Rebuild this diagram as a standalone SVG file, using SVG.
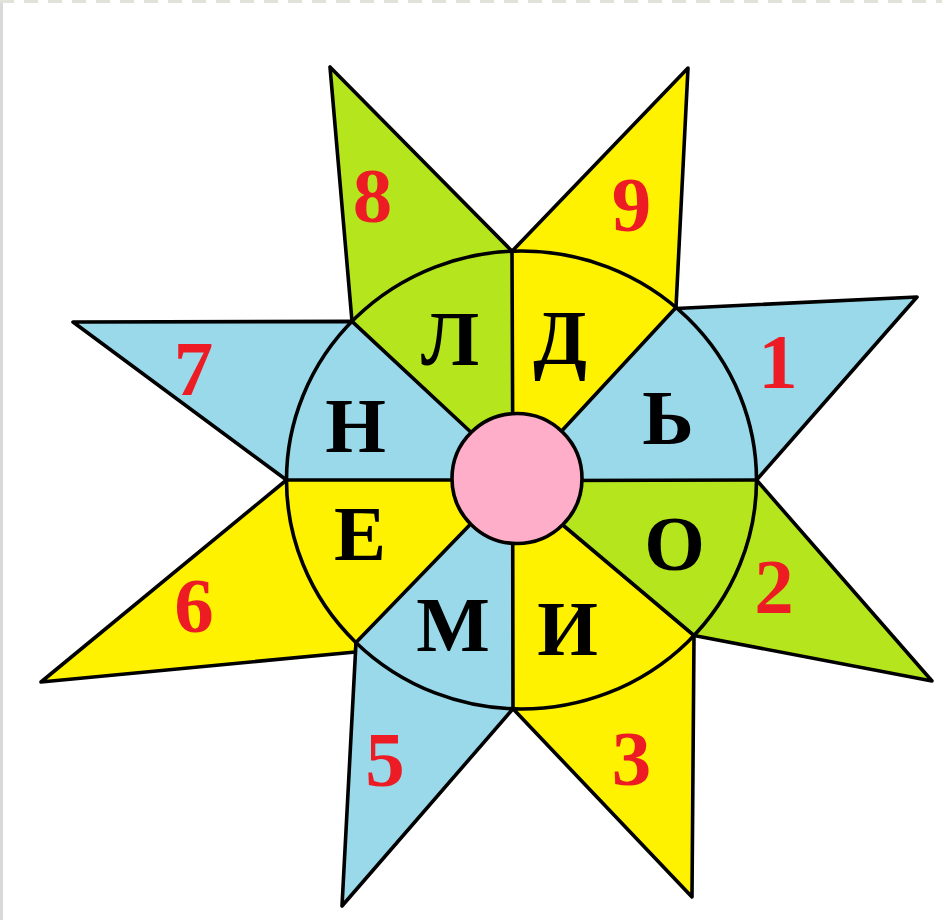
<svg xmlns="http://www.w3.org/2000/svg" width="942" height="920" viewBox="0 0 942 920">
<style>
.ln{stroke:#000;stroke-width:3.6;stroke-linejoin:round;stroke-linecap:round}
.g{fill:#B5E61D}.y{fill:#FFF200}.b{fill:#99D9EA}
.sec{stroke:none}
.let{font-family:"Liberation Serif","Times New Roman",serif;font-weight:bold;font-size:78px;fill:#000;text-anchor:middle}
.num{font-family:"Liberation Serif","Times New Roman",serif;font-weight:bold;font-size:79px;fill:#ED1C24;text-anchor:middle}
</style>
<rect x="0" y="0" width="942" height="920" fill="#fff"/>
<rect x="0" y="0" width="3" height="920" fill="#d9d9d9"/>
<line x1="0" y1="1.5" x2="942" y2="1.5" stroke="#e2e2d8" stroke-width="3" stroke-dasharray="14 10"/>

<!-- rays -->
<g id="ray8"><polygon class="g ln" points="330,67 352,321.4 512,251.2"/><text class="num" x="372.5" y="222">8</text></g>
<g id="ray9"><polygon class="y ln" points="688,68 512,251.2 676,307.5"/><text class="num" x="631.5" y="231">9</text></g>
<g id="ray1"><polygon class="b ln" points="917,297 676,308.5 756.5,480"/><text class="num" x="778" y="388">1</text></g>
<g id="ray2"><polygon class="g ln" points="932,681 756.5,480 694,635.5"/><text class="num" x="774" y="613">2</text></g>
<g id="ray3"><polygon class="y ln" points="692,897 513,708.8 694,635.5"/><text class="num" x="631.5" y="785">3</text></g>
<g id="ray6"><polygon class="y ln" points="41,682 286.5,480 356,642.6 355.5,652"/><text class="num" x="194" y="632">6</text></g>
<g id="ray5"><polygon class="b ln" points="342,906 356,642.6 513,708.8"/><text class="num" x="385" y="786">5</text></g>
<g id="ray7"><polygon class="b ln" points="73,322 352,321.4 286.5,480"/><text class="num" x="193.5" y="395">7</text></g>

<!-- sectors -->
<g id="sector-L"><path class="g sec" d="M490,450 L352,321.4 A235 229 0 0 1 512,251.2 L512.7,440 L517,479 Z"/><text class="let" x="450" y="365">Л</text></g>
<g id="sector-D"><path class="y sec" d="M512.7,440 L512,251.2 A235 229 0 0 1 676,307.5 L545,449 L517,479 Z"/><text class="let" x="560" y="364">Д</text></g>
<g id="sector-Soft"><path class="b sec" d="M545,449 L676,307.5 A235 229 0 0 1 756.5,480 L560,480.5 L517,479 Z"/><text class="let" x="668" y="444">Ь</text></g>
<g id="sector-O"><path class="g sec" d="M560,480.5 L756.5,480 A235 229 0 0 1 694,635.5 L545,510 L517,479 Z"/><text class="let" x="674.5" y="570">О</text></g>
<g id="sector-I"><path class="y sec" d="M545,510 L694,635.5 A235 229 0 0 1 513,708.8 L512.7,520 L517,479 Z"/><text class="let" x="567.5" y="655">И</text></g>
<g id="sector-M"><path class="b sec" d="M512.7,520 L513,708.8 A235 229 0 0 1 356,642.6 L490,504 L517,479 Z"/><text class="let" x="453" y="651">М</text></g>
<g id="sector-E"><path class="y sec" d="M490,504 L356,642.6 A235 229 0 0 1 286.5,480 L470,480 L517,479 Z"/><text class="let" x="360" y="560">Е</text></g>
<g id="sector-N"><path class="b sec" d="M470,480 L286.5,480 A235 229 0 0 1 352,321.4 L490,450 L517,479 Z"/><text class="let" x="355.5" y="452">Н</text></g>

<!-- outlines -->
<g id="connectors" class="ln" fill="none">
<ellipse cx="521.5" cy="480" rx="235" ry="229"/>
<line x1="512.7" y1="430" x2="512" y2="251.2"/>
<line x1="545" y1="449" x2="676" y2="307.5"/>
<line x1="560" y1="480.5" x2="756.5" y2="480"/>
<line x1="545" y1="510" x2="694" y2="635.5"/>
<line x1="512.7" y1="530" x2="513" y2="708.8"/>
<line x1="490" y1="504" x2="356" y2="642.6"/>
<line x1="470" y1="480" x2="286.5" y2="480"/>
<line x1="490" y1="450" x2="352" y2="321.4"/>
</g>

<g id="center"><circle cx="517" cy="478.5" r="65" fill="#FFAEC9" stroke="#000" stroke-width="3.6"/></g>
</svg>
